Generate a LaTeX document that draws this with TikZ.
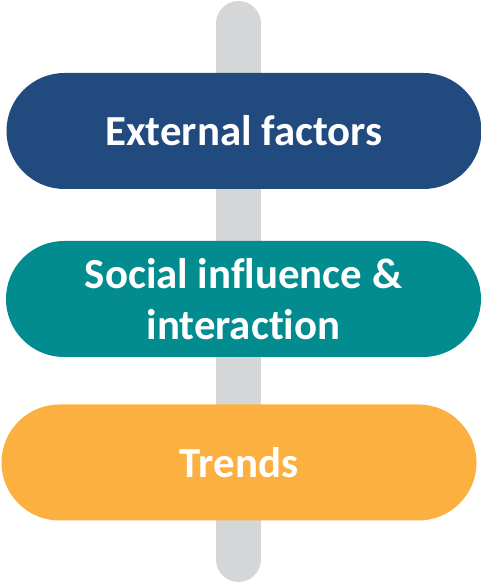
\documentclass[tikz,border=0pt]{standalone}
\usepackage{fontspec}
\setmainfont{Carlito}[Ligatures=NoCommon]
\usepackage{tikz}
\usetikzlibrary{shapes.misc}

\definecolor{navy}{HTML}{214A7E}
\definecolor{tealbox}{HTML}{028C8F}
\definecolor{amber}{HTML}{FBB040}
\definecolor{polegray}{HTML}{D5D6D8}

\tikzset{
    pill/.style={rounded rectangle, minimum width=475bp, minimum height=116bp,
        inner sep=0pt, text=white, align=center,
        font=\fontsize{43}{51}\selectfont\bfseries},
}

\begin{document}
\begin{tikzpicture}[x=1bp,y=1bp]
    \useasboundingbox (0,0) rectangle (481,584);
    % the post behind the signs
    \coordinate (top) at (238.5,560.5);
    \coordinate (bottom) at (238.5,24.5);
    \draw[line width=45bp, line cap=round, color=polegray] (top) -- (bottom);
    % the three signs
    \node[pill, fill=navy] (ext) at (244,453) {External factors};
    \node[pill, fill=tealbox] (soc) at (243.5,285) {Social influence \&\\interaction};
    \node[pill, fill=amber] (trend) at (239,121.5) {Trends};
\end{tikzpicture}
\end{document}
